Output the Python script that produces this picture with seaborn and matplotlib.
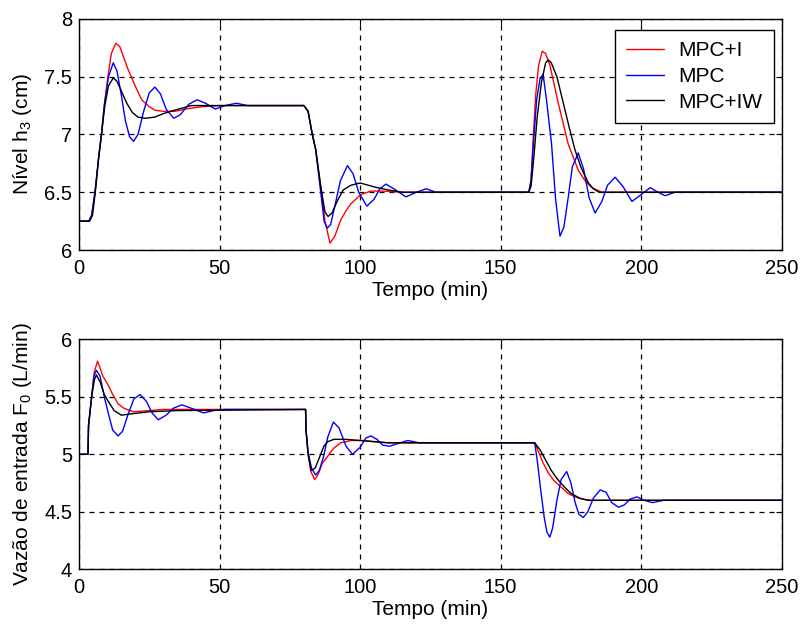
import matplotlib
matplotlib.use("Agg")
import matplotlib.pyplot as plt
import seaborn as sns
import pandas as pd

# ---- data (time in min, value) ----
series_names = ["MPC+I", "MPC", "MPC+IW"]
series_colors = ["#ff0000", "#0000ff", "#000000"]

h3_mpc_i = [(0, 6.25), (3.5, 6.25), (4.5, 6.3), (5.7, 6.5), (7, 6.8), (8, 7.0), (9, 7.25), (10.3, 7.5),
            (11.5, 7.7), (13.1, 7.79), (14.5, 7.76), (16, 7.66), (17.5, 7.56), (20, 7.42), (22.3, 7.30),
            (25, 7.24), (27, 7.21), (30, 7.20), (34, 7.20), (38, 7.22), (43.6, 7.24), (50, 7.25), (80, 7.25),
            (81.5, 7.2), (83, 7.0), (84.2, 6.87), (86, 6.55), (87.5, 6.25), (89.3, 6.06), (91, 6.12),
            (93.1, 6.26), (95, 6.34), (96.7, 6.40), (100.3, 6.48), (103.8, 6.51), (108, 6.51), (115, 6.50),
            (160, 6.50), (160.8, 6.6), (161.6, 6.98), (162.5, 7.35), (163.5, 7.6), (164.8, 7.72), (166, 7.70),
            (167.5, 7.6), (170.5, 7.27), (172, 7.12), (174, 6.92), (177.6, 6.69), (180, 6.6), (182.4, 6.54),
            (186, 6.5), (250, 6.5)]

h3_mpc = [(0, 6.25), (3.5, 6.25), (4.5, 6.3), (5.7, 6.5), (7, 6.8), (8, 7.0), (9, 7.25), (10.5, 7.5),
          (12.2, 7.62), (13.5, 7.55), (15, 7.35), (16.5, 7.12), (18, 6.98), (19.4, 6.94), (21, 7.0),
          (23, 7.2), (25, 7.36), (27, 7.41), (29, 7.35), (31, 7.22), (33.7, 7.14), (36, 7.17), (39, 7.26),
          (42, 7.30), (45, 7.27), (48.5, 7.22), (52, 7.25), (56, 7.27), (60, 7.25), (80, 7.25), (81.5, 7.2),
          (83, 7.0), (84.2, 6.87), (86, 6.5), (87.2, 6.25), (88.3, 6.19), (89.5, 6.22), (91, 6.38),
          (93, 6.6), (95.5, 6.73), (97.5, 6.66), (99.5, 6.5), (102.4, 6.38), (105, 6.44), (107, 6.53),
          (109.2, 6.57), (112, 6.53), (116.3, 6.46), (120, 6.5), (123.5, 6.53), (127, 6.5), (160, 6.5),
          (160.8, 6.6), (161.6, 6.9), (162.8, 7.3), (164, 7.48), (165.1, 7.52), (166.3, 7.3), (168.1, 6.92),
          (169.5, 6.45), (171.1, 6.12), (172.5, 6.2), (174, 6.45), (175.5, 6.72), (177.6, 6.84),
          (179.5, 6.7), (181.5, 6.45), (183.6, 6.32), (186, 6.42), (188, 6.56), (190.7, 6.63),
          (193.5, 6.55), (196.7, 6.42), (200, 6.48), (203.2, 6.54), (206, 6.5), (208.5, 6.47),
          (212, 6.5), (250, 6.5)]

h3_mpc_iw = [(0, 6.25), (3.8, 6.25), (4.8, 6.3), (5.8, 6.5), (7, 6.8), (8, 7.0), (9.2, 7.25), (10.5, 7.42),
             (12.2, 7.49), (13.5, 7.46), (15, 7.38), (17, 7.27), (19, 7.19), (21, 7.15), (23.6, 7.14),
             (27, 7.15), (30, 7.18), (34, 7.21), (40, 7.25), (50, 7.25), (80, 7.25), (81.5, 7.2), (83, 7.0),
             (84.2, 6.87), (86, 6.55), (87.5, 6.33), (88.6, 6.29), (90, 6.32), (92, 6.43), (94, 6.52),
             (96.7, 6.56), (100, 6.58), (103, 6.56), (106, 6.54), (110, 6.52), (115, 6.5), (160, 6.5),
             (160.8, 6.55), (161.8, 6.8), (163, 7.15), (164.5, 7.45), (166, 7.62), (166.9, 7.645),
             (168, 7.62), (170, 7.5), (172.9, 7.21), (174.5, 7.05), (176.4, 6.87), (178.5, 6.72),
             (181.2, 6.58), (183, 6.53), (185, 6.5), (250, 6.5)]

f0_mpc_i = [(0, 5.0), (3.2, 5.0), (3.4, 5.25), (4.5, 5.5), (5.5, 5.72), (6.6, 5.81), (7.5, 5.75),
            (8.5, 5.68), (10.4, 5.60), (12, 5.52), (13.9, 5.44), (16, 5.40), (19.3, 5.37), (25, 5.38),
            (30, 5.39), (80.6, 5.39), (80.8, 5.2), (81.5, 5.0), (82.5, 4.85), (83.8, 4.78), (85, 4.82),
            (86.5, 4.92), (88.4, 4.98), (90.5, 5.05), (93.1, 5.10), (97, 5.12), (101, 5.12), (105, 5.11),
            (110, 5.10), (162.1, 5.10), (163.5, 5.02), (165, 4.93), (166.9, 4.84), (169, 4.77),
            (171.7, 4.71), (174, 4.66), (176.4, 4.63), (179, 4.61), (182, 4.6), (250, 4.6)]

f0_mpc = [(0, 5.0), (3.2, 5.0), (3.4, 5.25), (4.5, 5.5), (5.3, 5.68), (6.2, 5.73), (7.5, 5.68), (9, 5.5),
          (10.5, 5.35), (12, 5.21), (13.9, 5.16), (15.5, 5.20), (17.5, 5.35), (19.5, 5.48), (21.7, 5.52),
          (24, 5.46), (26, 5.36), (28.2, 5.30), (31, 5.34), (33.5, 5.40), (36.6, 5.43), (40, 5.40),
          (44.3, 5.36), (48, 5.38), (52, 5.39), (80.6, 5.39), (80.8, 5.2), (81.5, 5.02), (82.7, 4.88),
          (84.2, 4.82), (85.5, 4.86), (87, 4.98), (88.5, 5.15), (90.5, 5.28), (92.5, 5.23), (95, 5.07),
          (97.3, 5.00), (100, 5.06), (102, 5.14), (103.8, 5.16), (106, 5.13), (108, 5.08), (110.4, 5.07),
          (113, 5.09), (117, 5.12), (121, 5.10), (162.1, 5.10), (163, 4.95), (164.2, 4.7), (165.5, 4.45),
          (166.5, 4.32), (167.5, 4.28), (168.5, 4.36), (170, 4.6), (171.5, 4.78), (173.5, 4.85),
          (175, 4.75), (176.5, 4.58), (177.8, 4.48), (179.4, 4.45), (181, 4.5), (183, 4.62),
          (185.4, 4.69), (187.5, 4.67), (189.5, 4.58), (191.9, 4.54), (194, 4.56), (196, 4.61),
          (198.5, 4.63), (201, 4.6), (204, 4.58), (208, 4.6), (250, 4.6)]

f0_mpc_iw = [(0, 5.0), (3.2, 5.0), (3.4, 5.25), (4.5, 5.5), (5.5, 5.65), (6.2, 5.69), (7.5, 5.63),
             (9, 5.52), (10.4, 5.46), (12.5, 5.38), (15.1, 5.34), (18, 5.35), (25, 5.37), (35, 5.38),
             (80.6, 5.39), (80.8, 5.2), (81.5, 5.0), (82.6, 4.86), (84, 4.88), (85.5, 4.97), (87.1, 5.07),
             (88.5, 5.11), (90.7, 5.13), (95, 5.13), (100, 5.12), (110, 5.10), (162.1, 5.10), (164, 5.04),
             (166, 4.95), (168, 4.86), (170, 4.79), (172.5, 4.72), (175, 4.66), (178, 4.62), (181, 4.6),
             (250, 4.6)]

x_ticks = [0, 50, 100, 150, 200, 250]
h3_ticks = [6, 6.5, 7, 7.5, 8]
h3_tick_labels = ["6", "6.5", "7", "7.5", "8"]
f0_ticks = [4, 4.5, 5, 5.5, 6]
f0_tick_labels = ["4", "4.5", "5", "5.5", "6"]


def to_frame(groups):
    rows = []
    for name, pts in zip(series_names, groups):
        for i, (t, v) in enumerate(pts):
            rows.append({"t": t, "v": v, "serie": name, "ord": i})
    return pd.DataFrame(rows)


df_h3 = to_frame([h3_mpc_i, h3_mpc, h3_mpc_iw])
df_f0 = to_frame([f0_mpc_i, f0_mpc, f0_mpc_iw])

sns.set_style("white")
plt.rcParams["font.family"] = ["Liberation Sans", "DejaVu Sans"]
plt.rcParams["mathtext.fontset"] = "custom"
plt.rcParams["mathtext.rm"] = "Liberation Sans"
plt.rcParams["mathtext.it"] = "Liberation Sans:italic"
plt.rcParams["mathtext.bf"] = "Liberation Sans:bold"
plt.rcParams["text.color"] = "black"
plt.rcParams["axes.labelcolor"] = "black"

fig = plt.figure(figsize=(8.01, 6.29), dpi=100)
ax1 = fig.add_axes([0.0986, 0.6025, 0.8774, 0.3675])
ax2 = fig.add_axes([0.0986, 0.0949, 0.8774, 0.3657])

palette = dict(zip(series_names, series_colors))

for ax, df, yt, ytl, ylim, ylabel in [
    (ax1, df_h3, h3_ticks, h3_tick_labels, (6, 8), "Nível h$_3$ (cm)"),
    (ax2, df_f0, f0_ticks, f0_tick_labels, (4, 6), "Vazão de entrada F$_0$ (L/min)"),
]:
    sns.lineplot(data=df, x="t", y="v", hue="serie", hue_order=series_names, palette=palette,
                 estimator=None, sort=False, units="serie", linewidth=1.0, ax=ax, legend=(ax is ax1))
    ax.set_xlim(0, 250)
    ax.set_ylim(*ylim)
    ax.set_xticks(x_ticks)
    ax.set_xticklabels([str(x) for x in x_ticks])
    ax.set_yticks(yt)
    ax.set_yticklabels(ytl)
    ax.grid(True, color="black", linestyle=(0, (4, 4)), linewidth=0.9)
    ax.set_axisbelow(True)
    ax.tick_params(direction="in", top=True, right=True, length=4, labelsize=14.5, colors="black")
    ax.tick_params(axis="x", pad=6.5)
    ax.tick_params(axis="y", pad=5)
    for s in ax.spines.values():
        s.set_color("black")
        s.set_linewidth(1.0)
        s.set_visible(True)
    ax.set_xlabel("Tempo (min)", fontsize=15, labelpad=2, color="black")
    ax.set_ylabel(ylabel, fontsize=15, labelpad=7, color="black")

leg = ax1.legend(loc="upper right", fontsize=15, frameon=True, fancybox=False, framealpha=1,
                 edgecolor="black", handlelength=1.8, handletextpad=0.7, borderpad=0.55,
                 labelspacing=0.32, borderaxespad=0, bbox_to_anchor=(0.989, 0.952))
leg.get_frame().set_linewidth(1.0)
for txt in leg.get_texts():
    txt.set_color("black")

fig.savefig("out.png", dpi=100)
